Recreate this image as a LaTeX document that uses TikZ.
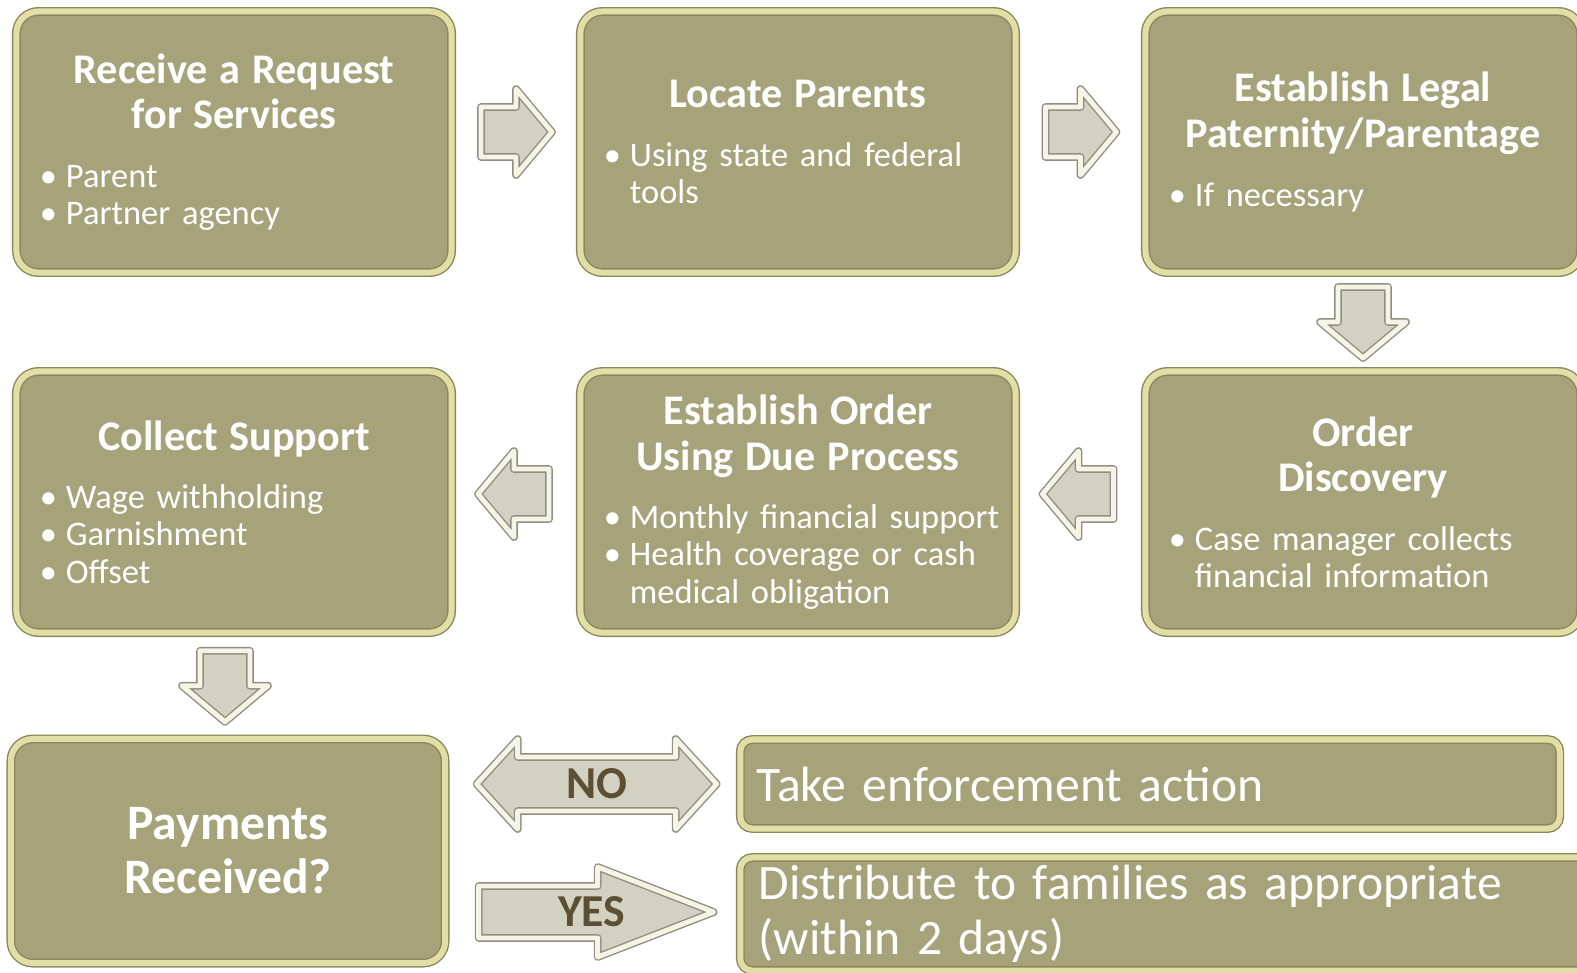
\documentclass[tikz,border=0pt]{standalone}
\usepackage{fontspec}
\setmainfont[WordSpace=0.85]{Carlito}
\usetikzlibrary{positioning,calc}

\definecolor{boxfill}{HTML}{A6A37B}
\definecolor{boxbevel}{HTML}{E2DFA6}
\definecolor{boxedge}{HTML}{8A875E}
\definecolor{arrowfill}{HTML}{D3D1C1}
\definecolor{arrowbevel}{HTML}{F6F4E4}
\definecolor{arrowedge}{HTML}{8E8E84}
\definecolor{choicetext}{HTML}{5C4F33}

\newcommand{\steptitle}[1]{{\centering\fontsize{12}{13}\selectfont\bfseries #1\par}\vspace{6pt}}
\newcommand{\bul}[1]{{\fontsize{9.8}{10.6}\selectfont\mbox{\makebox[0.26cm][l]{\textbullet}#1}\par}}
\newcommand{\cont}[1]{{\fontsize{9.8}{10.6}\selectfont\mbox{\hspace*{0.26cm}#1}\par}}

\tikzset{
  stepbox/.style={rounded corners=0.22cm, fill=boxfill, draw=boxedge, line width=0.4pt,
    double=boxbevel, double distance=0.06cm, minimum width=4.35cm, minimum height=2.61cm,
    text width=3.88cm, inner sep=0pt, text=white, align=left},
  resultbox/.style={rounded corners=0.12cm, fill=boxfill, draw=boxedge, line width=0.4pt,
    double=boxbevel, double distance=0.06cm, inner sep=0pt, text=white, align=left,
    font=\fontsize{14.1}{15.6}\selectfont},
  blockarrow/.style={fill=arrowfill, draw=arrowedge, line width=0.4pt,
    double=arrowbevel, double distance=1.4pt, line join=round},
  choice/.style={text=choicetext, font=\fontsize{13}{14}\selectfont\bfseries, inner sep=0pt},
  rarrow/.pic={\draw[blockarrow] (-35,-25) -- (0,-25) -- (0,-43) -- (36,0) -- (0,43) -- (0,25) -- (-35,25) -- cycle;},
  twoarrow/.pic={\draw[blockarrow] (-120,0) -- (-79,-45) -- (-79,-27) -- (79,-27) -- (79,-45) -- (120,0)
    -- (79,45) -- (79,27) -- (-79,27) -- (-79,45) -- cycle;},
  yesarrow/.pic={\draw[blockarrow] (-117,-26) -- (2,-26) -- (2,-45) -- (118,0) -- (2,45) -- (2,26) -- (-117,26) -- cycle;},
}

\begin{document}
\begin{tikzpicture}[x=0.01cm, y=-0.01cm]
  \useasboundingbox (0,0) rectangle (1577,972);
  \clip (0,0) rectangle (1577,972);

  % steps
  \node[stepbox] (recv) at (234,142) {\steptitle{Receive a Request\\for Services}\bul{Parent}\bul{Partner agency}};
  \node[stepbox] (locate) at (798,142) {\steptitle{Locate Parents}\bul{Using state and federal}\cont{tools}};
  \node[stepbox] (paternity) at (1363,142) {\steptitle{Establish Legal\\Paternity/Parentage}\bul{If necessary}};
  \node[stepbox] (discovery) at (1363,502) {\steptitle{Order\\Discovery}\bul{Case manager collects}\cont{financial information}};
  \node[stepbox] (order) at (798,502) {\steptitle{Establish Order\\Using Due Process}\bul{Monthly financial support}\bul{Health coverage or cash}\cont{medical obligation}};
  \node[stepbox] (collect) at (234,502) {\steptitle{Collect Support}\bul{Wage withholding}\bul{Garnishment}\bul{Offset}};
  \node[stepbox, minimum width=4.34cm, minimum height=2.24cm, align=center,
    font=\fontsize{14.1}{15.4}\selectfont\bfseries] (payments) at (228,851) {Payments\\Received?};
  \node[resultbox, minimum width=8.19cm, minimum height=0.89cm, text width=7.86cm] (enforce) at (1150,784) {Take enforcement action};
  \node[resultbox, minimum width=8.55cm, minimum height=1.13cm, text width=8.18cm] (distribute) at (1168,914) {Distribute to families as appropriate\\(within 2 days)};

  % block arrows
  \pic at ($(recv.east)!0.5!(locate.west)+(0,-10)$) {rarrow};
  \pic at ($(locate.east)!0.5!(paternity.west)+(0,-10)$) {rarrow};
  \pic[rotate=-90] at ($(paternity.south)!0.5!(discovery.north)$) {rarrow};
  \pic[rotate=180] at ($(discovery.west)!0.5!(order.east)+(-2,-8)$) {rarrow};
  \pic[rotate=180] at ($(order.west)!0.5!(collect.east)+(-2,-8)$) {rarrow};
  \pic[rotate=-90] at ($(collect.south)!0.5!(payments.north)+(-6,0)$) {rarrow};

  \coordinate (nopos) at ($(payments.east |- enforce.west)!0.5!(enforce.west)+(4,0)$);
  \coordinate (yespos) at ($(payments.east |- distribute.west)!0.5!(distribute.west)+(3,-2)$);
  \pic at (nopos) {twoarrow};
  \pic at (yespos) {yesarrow};
  \node[choice] (no) at (nopos) {NO};
  \node[choice, xshift=-0.04cm] (yes) at (yespos) {YES};
\end{tikzpicture}
\end{document}
